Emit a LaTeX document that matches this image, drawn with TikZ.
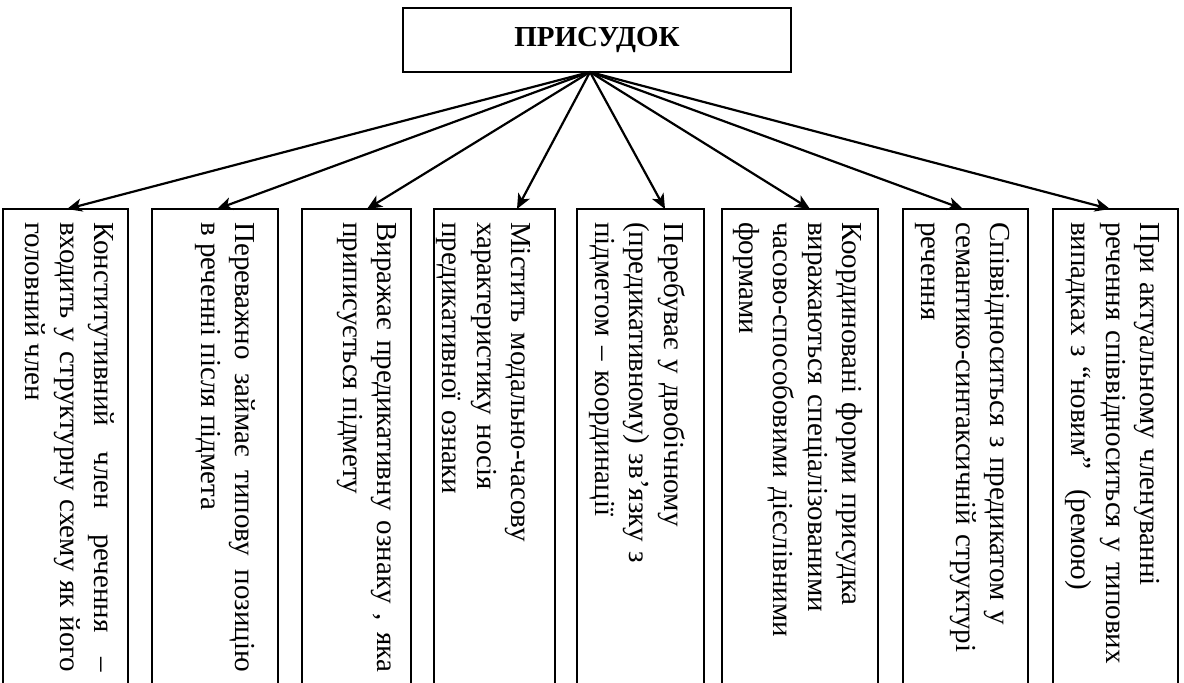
\documentclass[tikz,border=0pt]{standalone}
\usepackage{fontspec}
\setmainfont{Liberation Serif}
\usetikzlibrary{arrows.meta}
\tolerance=10000
\hbadness=10000
\hyphenpenalty=10000
\tikzset{
  frame/.style={draw, line width=1.7pt, inner sep=0pt, outer sep=0pt, anchor=north west},
  itembox/.style={frame, minimum width=#1, minimum height=520pt},
  itemtext/.style={rotate=-90, anchor=north west, inner sep=0pt, text width=450pt,
    font=\fontsize{29}{34.5}\selectfont},
  fulltext/.style={itemtext, align=justify},
  looktext/.style={itemtext, align=left},
  arr/.style={line width=2.2pt, -{Stealth[length=15pt, width=13pt, inset=4pt]}},
}
\begin{document}
\begin{tikzpicture}[x=1pt, y=-1pt]
\useasboundingbox (0,0) rectangle (1184,683);
\clip (0,0) rectangle (1184,683);

% heading
\node[frame, minimum width=388pt, minimum height=64pt,
      font=\bfseries\fontsize{29}{34}\selectfont] (top) at (403,8) {ПРИСУДОК};
\coordinate (hub) at ([xshift=-7pt]top.south);

% the eight properties
\node[itembox=125pt] (b1) at (3,209) {};
\node[itembox=126pt] (b2) at (152,209) {};
\node[itembox=109pt] (b3) at (302,209) {};
\node[itembox=121pt] (b4) at (434,209) {};
\node[itembox=127pt] (b5) at (577,209) {};
\node[itembox=156pt] (b6) at (722,209) {};
\node[itembox=125pt] (b7) at (903,209) {};
\node[itembox=125pt] (b8) at (1053,209) {};

\node[fulltext] (t1) at (115,222) {Конститутивний член речення –\linebreak входить у структурну схему як його\linebreak головний член};
\node[fulltext] (t2) at (256,222) {Переважно займає типову позицію\linebreak в реченні після підмета};
\node[fulltext] (t3) at (397,222) {Виражає предикативну ознаку , яка\linebreak приписується підмету};
\node[looktext] (t4) at (531,222) {Містить модально-часову\\характеристику носія\\предикативної ознаки};
\node[looktext] (t5) at (685,222) {Перебуває у двобічному\\(предикативному) зв’язку з\\підметом – координації};
\node[looktext] (t6) at (863,222) {Координовані форми присудка\\виражаються спеціалізованими\\часово-способовими дієслівними\\формами};
\node[looktext] (t7) at (1010,222) {Співвідноситься з предикатом у\\семантико-синтаксичній структурі\\речення};
\node[looktext] (t8) at (1160,222) {При актуальному членуванні\\речення співвідноситься у типових\\випадках з “новим”\ \ (ремою)};

% arrow ends on the top edges
\coordinate (e1) at ([xshift=64pt]b1.north west);
\coordinate (e2) at ([xshift=65pt]b2.north west);
\coordinate (e3) at ([xshift=65pt]b3.north west);
\coordinate (e4) at ([xshift=83pt]b4.north west);
\coordinate (e5) at ([xshift=88pt]b5.north west);
\coordinate (e6) at ([xshift=88pt]b6.north west);
\coordinate (e7) at ([xshift=60pt]b7.north west);
\coordinate (e8) at ([xshift=57pt]b8.north west);

\foreach \i in {1,...,8} \draw[arr] (hub) -- (e\i);
\end{tikzpicture}
\end{document}
